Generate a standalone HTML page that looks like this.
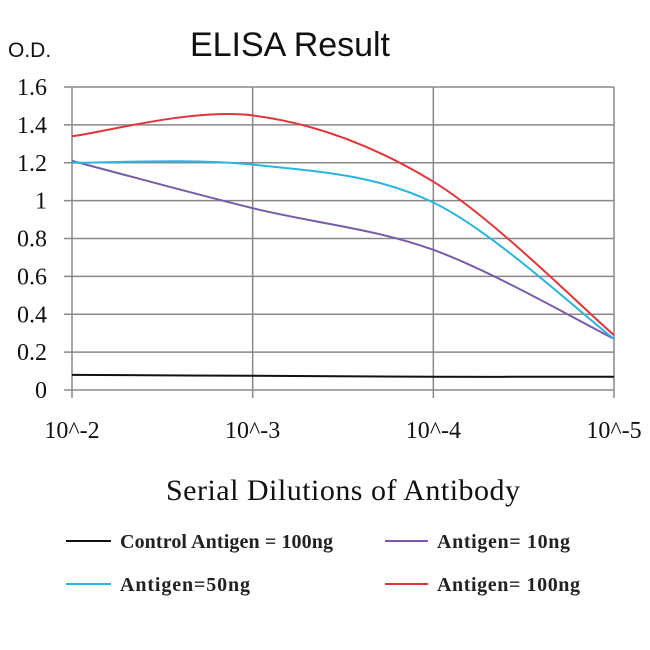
<!DOCTYPE html>
<html><head><meta charset="utf-8"><style>
body{margin:0;background:#fff}
svg{display:block}
</style></head><body>
<svg id="chart" width="650" height="650" xmlns="http://www.w3.org/2000/svg">
<text x="8" y="57" font-family="Liberation Sans, sans-serif" font-size="21" fill="#111">O.D.</text>
<text x="190" y="56" font-family="Liberation Sans, sans-serif" font-size="34" fill="#111" textLength="200">ELISA Result</text>
<g id="grid"></g>
<g id="series"></g>
<text x="166" y="500" font-family="Liberation Serif, serif" font-size="30" fill="#111" textLength="354">Serial Dilutions of Antibody</text>
<g font-family="Liberation Serif, serif" font-size="20" font-weight="bold" fill="#222">
<g><line x1="66" y1="541" x2="111" y2="541" stroke="#111" stroke-width="2"/><text x="120" y="548" textLength="213">Control Antigen = 100ng</text></g>
<g><line x1="385" y1="541" x2="428" y2="541" stroke="#7a5aa8" stroke-width="2"/><text x="437" y="548" textLength="133">Antigen= 10ng</text></g>
<g><line x1="66" y1="584" x2="111" y2="584" stroke="#2ab4e0" stroke-width="2"/><text x="120" y="591" textLength="130">Antigen=50ng</text></g>
<g><line x1="385" y1="584" x2="428" y2="584" stroke="#e0353a" stroke-width="2"/><text x="437" y="591" textLength="143">Antigen= 100ng</text></g>
</g>
</svg>
<script>
const categories=["10^-2","10^-3","10^-4","10^-5"];
const yTicks=[0,0.2,0.4,0.6,0.8,1,1.2,1.4,1.6];
const yTickLabels=["0","0.2","0.4","0.6","0.8","1","1.2","1.4","1.6"];
const control=[0.08,0.075,0.07,0.07];
const ag10=[1.21,0.96,0.74,0.27];
const ag50=[1.2,1.19,0.99,0.27];
const ag100=[1.34,1.45,1.1,0.29];
const NS="http://www.w3.org/2000/svg";
const x0=72,x1=614,y0=390,y1=87;
function xs(i){return x0+i*(x1-x0)/(categories.length-1);}
function ys(v){return y0-(v/1.6)*(y0-y1);}
const grid=document.getElementById('grid');
yTicks.forEach((t,i)=>{
 const l=document.createElementNS(NS,'line');
 l.setAttribute('x1',x0-8);l.setAttribute('x2',x1);l.setAttribute('y1',ys(t));l.setAttribute('y2',ys(t));
 l.setAttribute('stroke','#888');l.setAttribute('stroke-width','1.5');
 
 
 grid.appendChild(l);
 const tx=document.createElementNS(NS,'text');
 tx.setAttribute('x',47);tx.setAttribute('y',ys(t)+8);tx.setAttribute('text-anchor','end');
 tx.setAttribute('font-family','Liberation Serif, serif');tx.setAttribute('font-size','24');tx.setAttribute('fill','#111');
 tx.textContent=yTickLabels[i];
 
 
 grid.appendChild(tx);
});
categories.forEach((c,i)=>{
 const l=document.createElementNS(NS,'line');
 l.setAttribute('x1',xs(i));l.setAttribute('x2',xs(i));l.setAttribute('y1',y1);l.setAttribute('y2',y0+8);
 l.setAttribute('stroke','#888');l.setAttribute('stroke-width','1.5');
 
 
 grid.appendChild(l);
 const tx=document.createElementNS(NS,'text');
 tx.setAttribute('x',xs(i));tx.setAttribute('y',438);tx.setAttribute('text-anchor','middle');
 tx.setAttribute('font-family','Liberation Serif, serif');tx.setAttribute('font-size','24');tx.setAttribute('fill','#111');
 tx.textContent=c;
 
 
 grid.appendChild(tx);
});
function path(vals){
 const p=vals.map((v,i)=>[xs(i),ys(v)]);
 let d='M'+p[0][0]+','+p[0][1];
 for(let i=0;i<p.length-1;i++){
  const a=p[Math.max(i-1,0)],b=p[i],c=p[i+1],e=p[Math.min(i+2,p.length-1)];
  const c1=[b[0]+(c[0]-a[0])/6,b[1]+(c[1]-a[1])/6];
  const c2=[c[0]-(e[0]-b[0])/6,c[1]-(e[1]-b[1])/6];
  d+=' C'+c1+' '+c2+' '+c;
 }
 return d;
}
const ser=document.getElementById('series');
[[control,'#111','series-control'],[ag10,'#7a5aa8','series-10ng'],[ag50,'#2ab4e0','series-50ng'],[ag100,'#e0353a','series-100ng']].forEach(s=>{
 const p=document.createElementNS(NS,'path');
 p.setAttribute('d',path(s[0]));p.setAttribute('fill','none');p.setAttribute('stroke',s[1]);p.setAttribute('stroke-width','2');
 
 
 ser.appendChild(p);
});
</script>
</body></html>
